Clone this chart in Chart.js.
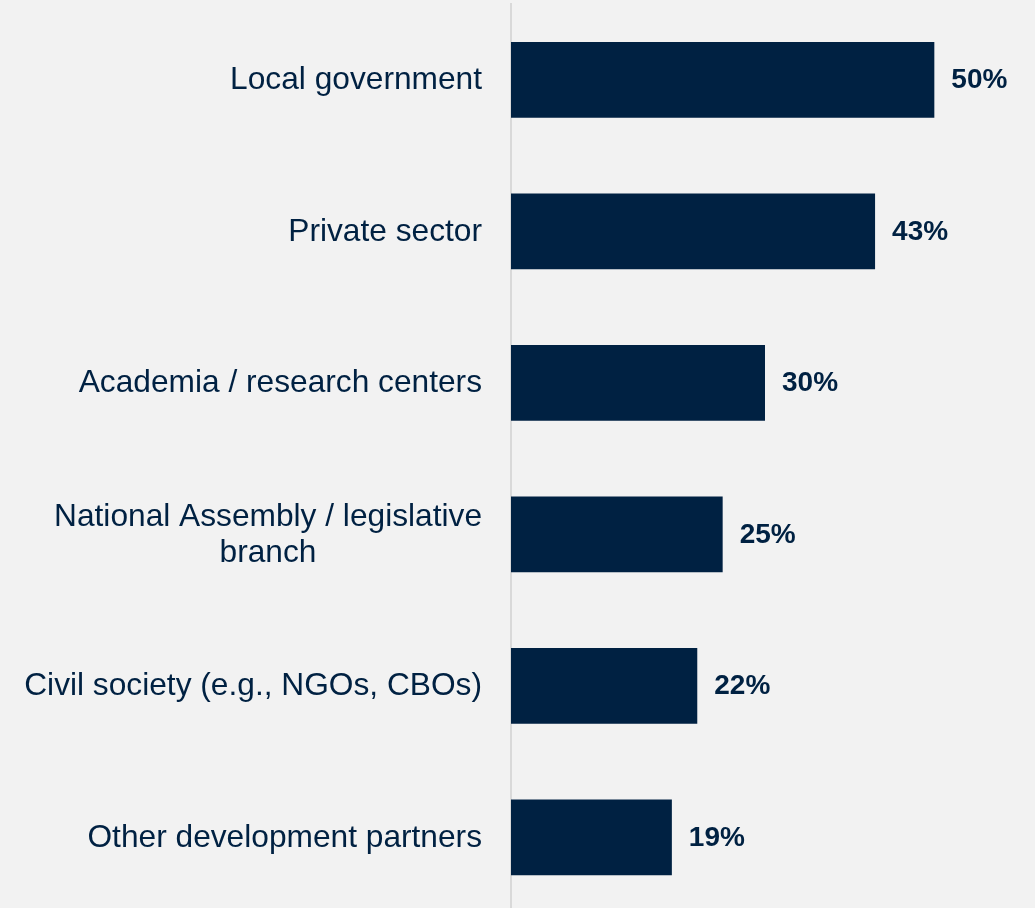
<!DOCTYPE html>
<html>
<head>
<meta charset="utf-8">
<script src="https://cdn.jsdelivr.net/npm/chart.js@4.4.1/dist/chart.umd.min.js"></script>
<style>
  html, body { margin: 0; padding: 0; background: #f2f2f2; overflow: hidden; }
  #wrap { position: relative; width: 1035px; height: 913px; }
</style>
</head>
<body>
<div id="wrap"><canvas id="chart"></canvas></div>
<script>
// Stakeholder categories and share of respondents (%)
const categories = [
  "Local government",
  "Private sector",
  "Academia / research centers",
  ["National Assembly / legislative", "branch"],
  "Civil society (e.g., NGOs, CBOs)",
  "Other development partners"
];
const shares = [50, 43, 30, 25, 22, 19];

const NAVY = "#002142";
const FONT = "'Liberation Sans', Arial, sans-serif";

// Category labels: single lines right-aligned, wrapped lines centred under each other
const categoryLabels = {
  id: "categoryLabels",
  afterDraw(chart) {
    const ctx = chart.ctx;
    const yScale = chart.scales.y;
    const right = chart.chartArea.left - 29;
    const lineH = 36.5;
    ctx.save();
    ctx.font = "31.7px " + FONT;
    ctx.fillStyle = NAVY;
    ctx.textBaseline = "middle";
    categories.forEach((label, i) => {
      const y = yScale.getPixelForValue(i) + 1;
      if (Array.isArray(label)) {
        const widest = Math.max(...label.map((l) => ctx.measureText(l).width));
        const cx = right - widest / 2;
        ctx.textAlign = "center";
        label.forEach((line, j) => {
          ctx.fillText(line, cx, y + (j - (label.length - 1) / 2) * lineH);
        });
      } else {
        ctx.textAlign = "right";
        ctx.fillText(label, right, y);
      }
    });
    ctx.restore();
  }
};

// Value labels just past the end of each bar
const valueLabels = {
  id: "valueLabels",
  afterDatasetsDraw(chart) {
    const ctx = chart.ctx;
    const meta = chart.getDatasetMeta(0);
    ctx.save();
    ctx.font = "bold 28px " + FONT;
    ctx.fillStyle = NAVY;
    ctx.textAlign = "left";
    ctx.textBaseline = "middle";
    meta.data.forEach((bar, i) => {
      ctx.fillText(shares[i] + "%", bar.x + 17, bar.y + 1);
    });
    ctx.restore();
  }
};

new Chart(document.getElementById("chart").getContext("2d"), {
  type: "bar",
  data: {
    labels: categories,
    datasets: [
      {
        data: shares,
        backgroundColor: NAVY,
        borderWidth: 0,
        barPercentage: 0.5,
        categoryPercentage: 1.0
      }
    ]
  },
  options: {
    indexAxis: "y",
    responsive: true,
    maintainAspectRatio: false,
    animation: false,
    layout: { padding: { top: 4, right: 16, bottom: 0, left: 0 } },
    plugins: {
      legend: { display: false },
      tooltip: { enabled: false }
    },
    scales: {
      x: {
        display: false,
        min: 0,
        max: 60
      },
      y: {
        grid: { display: false, drawTicks: false },
        border: { display: true, color: "#d9d9d9", width: 2 },
        ticks: { display: false },
        afterFit(scale) {
          scale.width = 511;
        }
      }
    }
  },
  plugins: [categoryLabels, valueLabels]
});
</script>
</body>
</html>
